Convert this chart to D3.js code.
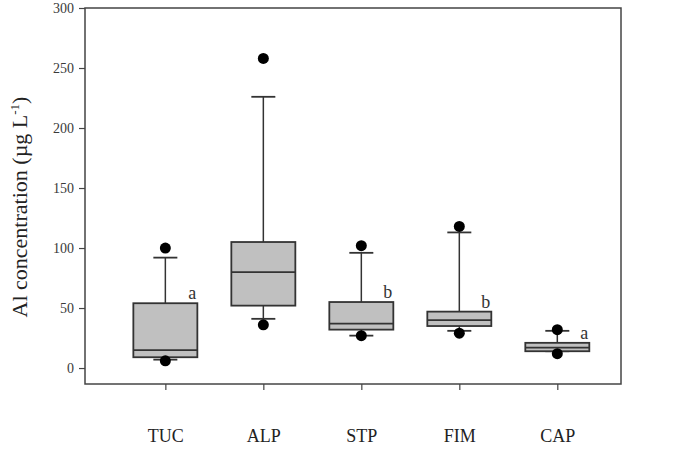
<!DOCTYPE html>
<html>
<head>
<meta charset="utf-8">
<script src="https://cdn.jsdelivr.net/npm/d3@7"></script>
<style>
  html, body { margin: 0; padding: 0; background: #fff; }
  svg { display: block; }
  text { font-family: "Liberation Serif", "Times New Roman", serif; }
</style>
</head>
<body>
<svg id="chart" width="680" height="461"></svg>
<script>
// ---- Data ----
const categories = ["TUC", "ALP", "STP", "FIM", "CAP"];
const whiskerLow  = [7, 41, 27, 31, 14];
const q1          = [9, 52, 32, 35, 14];
const medians     = [15, 80, 37, 40, 17];
const q3          = [54, 105, 55, 47, 21];
const whiskerHigh = [92, 226, 96, 113, 31];
const outlierLow  = [6, 36, 27, 29, 12];
const outlierHigh = [100, 258, 102, 118, 32];
const letters     = ["a", "", "b", "b", "a"];
const yTicks      = [0, 50, 100, 150, 200, 250, 300];

// ---- Layout ----
const frame = { left: 85, right: 621, top: 8, bottom: 384 };
const svg = d3.select("#chart");

const x = d3.scaleLinear().domain([-0.82, 4.65]).range([frame.left, frame.right]);
const y = d3.scaleLinear().domain([-13.3, 300]).range([frame.bottom, frame.top]);

const boxW = 64, capW = 24;
const strokeCol = "#333";

// frame
svg.append("rect")
  .attr("x", frame.left).attr("y", frame.top)
  .attr("width", frame.right - frame.left).attr("height", frame.bottom - frame.top)
  .attr("fill", "none").attr("stroke", "#444").attr("stroke-width", 1.5);

// y axis
const yAxis = d3.axisLeft(y).tickValues(yTicks).tickSize(6).tickPadding(5);
const gy = svg.append("g").attr("transform", `translate(${frame.left},0)`).call(yAxis);
gy.select(".domain").remove();
gy.selectAll(".tick line").attr("stroke", "#444").attr("stroke-width", 1.2);
gy.selectAll(".tick text").attr("font-size", 14).attr("fill", "#3a3a3a")
  .style("font-family", "'Liberation Serif', serif");

// x axis
const xAxis = d3.axisBottom(x).tickValues(d3.range(categories.length))
  .tickFormat(i => categories[i]).tickSize(6).tickPadding(39);
const gx = svg.append("g").attr("transform", `translate(0,${frame.bottom})`).call(xAxis);
gx.select(".domain").remove();
gx.selectAll(".tick line").attr("stroke", "#444").attr("stroke-width", 1.2);
gx.selectAll(".tick text").attr("font-size", 18).attr("fill", "#222")
  .style("font-family", "'Liberation Serif', serif");

// y label
const yl = svg.append("text")
  .attr("transform", `translate(27,207) rotate(-90)`)
  .attr("text-anchor", "middle")
  .attr("font-size", 22).attr("fill", "#222");
yl.append("tspan").text("Al concentration (µg L");
yl.append("tspan").attr("dy", -8).attr("font-size", 13).text("-1");
yl.append("tspan").attr("dy", 8).text(")");

// boxes
const g = svg.append("g");
categories.forEach((c, i) => {
  const cx = x(i);
  // whiskers
  g.append("line").attr("x1", cx).attr("x2", cx)
    .attr("y1", y(q3[i])).attr("y2", y(whiskerHigh[i]))
    .attr("stroke", strokeCol).attr("stroke-width", 1.5);
  g.append("line").attr("x1", cx).attr("x2", cx)
    .attr("y1", y(q1[i])).attr("y2", y(whiskerLow[i]))
    .attr("stroke", strokeCol).attr("stroke-width", 1.5);
  // caps
  [whiskerHigh[i], whiskerLow[i]].forEach(v => {
    g.append("line").attr("x1", cx - capW / 2).attr("x2", cx + capW / 2)
      .attr("y1", y(v)).attr("y2", y(v))
      .attr("stroke", strokeCol).attr("stroke-width", 1.8);
  });
  // box
  g.append("rect")
    .attr("x", cx - boxW / 2).attr("width", boxW)
    .attr("y", y(q3[i])).attr("height", y(q1[i]) - y(q3[i]))
    .attr("fill", "#c0c0c0").attr("stroke", strokeCol).attr("stroke-width", 1.8);
  // median
  g.append("line").attr("x1", cx - boxW / 2).attr("x2", cx + boxW / 2)
    .attr("y1", y(medians[i])).attr("y2", y(medians[i]))
    .attr("stroke", strokeCol).attr("stroke-width", 1.8);
  // outliers
  [outlierHigh[i], outlierLow[i]].forEach(v => {
    g.append("circle").attr("cx", cx).attr("cy", y(v)).attr("r", 5.5).attr("fill", "#000");
  });
  // letters
  if (letters[i]) {
    g.append("text").attr("x", cx + boxW / 2 - 1).attr("y", y(q3[i]) - 4)
      .attr("text-anchor", "end").attr("font-size", 18).attr("fill", "#333")
      .text(letters[i]);
  }
});
</script>
</body>
</html>
